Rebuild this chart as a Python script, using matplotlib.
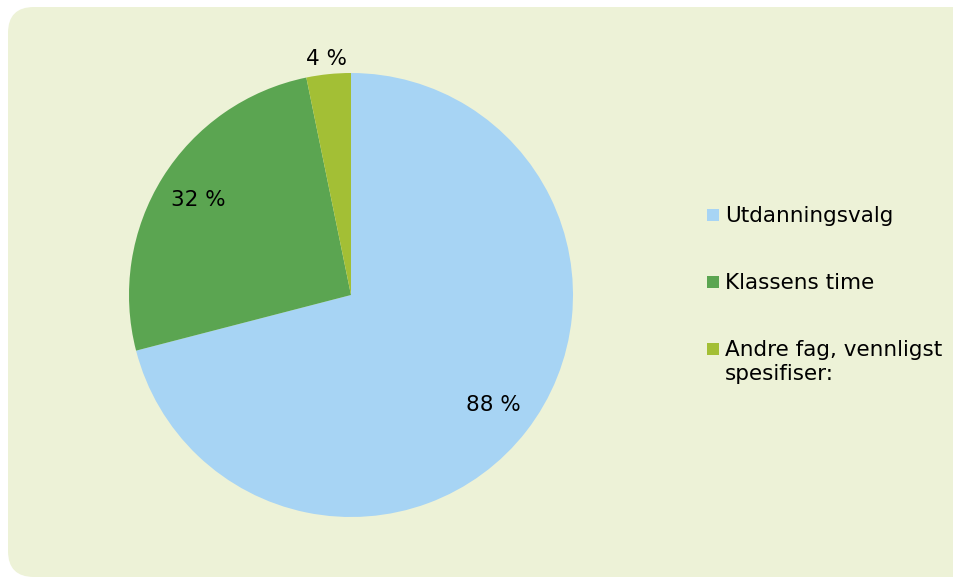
import numpy as np
import matplotlib.pyplot as plt
from matplotlib.patches import FancyBboxPatch, Rectangle

# Chart data
categories = ["Utdanningsvalg", "Klassens time", "Andre fag, vennligst\nspesifiser:"]
values = [88, 32, 4]
colors = ["#A7D4F4", "#5BA551", "#A3BF35"]
label_dist = [0.81, 0.81, 1.07]

W, H = 954, 578
fig = plt.figure(figsize=(W / 100, H / 100), dpi=100)
fig.patch.set_facecolor("white")

# Background axes in pixel units, holds the rounded panel and the legend
bg = fig.add_axes([0, 0, 1, 1], zorder=0)
bg.set_xlim(0, W)
bg.set_ylim(H, 0)
bg.axis("off")
bg.add_patch(FancyBboxPatch((8, 7), 1100, 570,
                            boxstyle="round,pad=0,rounding_size=26",
                            facecolor="#EDF2D7", edgecolor="none"))

# Pie axes: center at (351, 295) px, radius 222 px
cx, cy, r = 351, 295, 222
ax = fig.add_axes([(cx - r) / W, (H - cy - r) / H, 2 * r / W, 2 * r / H], zorder=1)
ax.patch.set_alpha(0)
wedges, _ = ax.pie(values, colors=colors, startangle=90, counterclock=False,
                   radius=1, wedgeprops=dict(linewidth=0))
ax.set_xlim(-1, 1)
ax.set_ylim(-1, 1)
ax.set_aspect("equal")
ax.axis("off")

for w, v, d in zip(wedges, values, label_dist):
    ang = np.deg2rad((w.theta1 + w.theta2) / 2)
    ax.text(d * np.cos(ang), d * np.sin(ang), f"{v} %", ha="center", va="center",
            fontsize=15.5, color="black", clip_on=False)

# Legend, drawn by hand so the marker sits on the first line
tops = [206, 273, 340]
for lab, col, yt in zip(categories, colors, tops):
    bg.add_patch(Rectangle((707, yt + 3), 12, 12, facecolor=col, edgecolor="none"))
    bg.text(725, yt, lab, ha="left", va="top", fontsize=15.5, color="black",
            linespacing=1.25)

fig.savefig("out.png", dpi=100)
